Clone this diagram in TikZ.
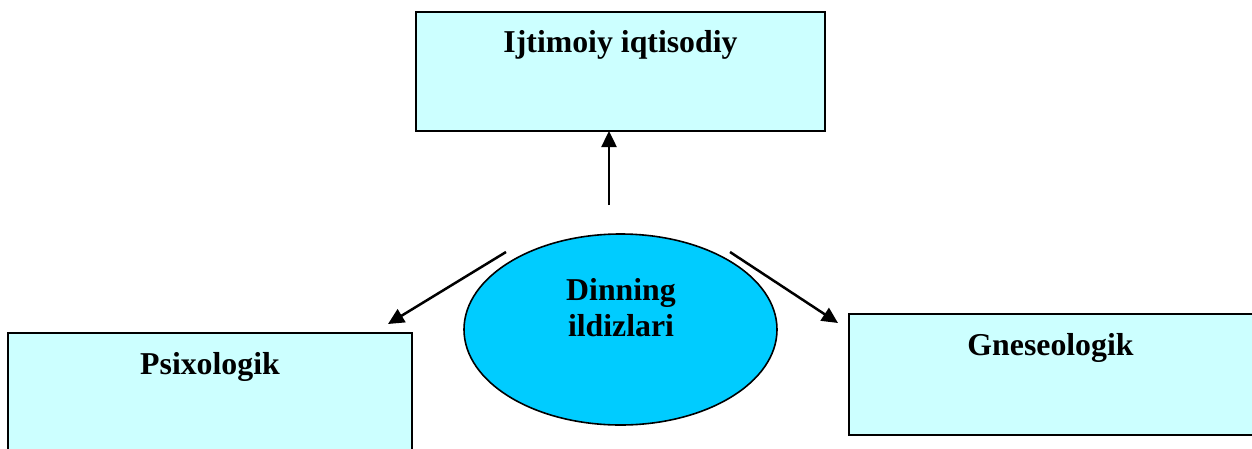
\documentclass[tikz,border=0pt]{standalone}
\usepackage{fontspec}
\setmainfont{Liberation Serif}
\usetikzlibrary{shapes.geometric,arrows.meta}
\definecolor{boxfill}{HTML}{CCFFFF}
\definecolor{ellfill}{HTML}{00CCFF}
\tikzset{
  boxnode/.style={draw=black, line width=2.2pt, fill=boxfill, rectangle, inner sep=0pt, outer sep=0pt, anchor=north west},
  ellnode/.style={draw=black, line width=1.6pt, fill=ellfill, ellipse, inner sep=0pt, outer sep=0pt},
  lbl/.style={font=\bfseries\fontsize{31.8}{36}\selectfont, inner sep=0pt, outer sep=0pt, align=center},
  arr/.style={line width=2.5pt, -{Triangle[length=16pt,width=15pt]}}
}
\begin{document}
\begin{tikzpicture}[x=1pt,y=-1pt]
\useasboundingbox (0,0) rectangle (1252,448);
\clip (0,0) rectangle (1252,448);
\fill[white] (0,0) rectangle (1252,448);
% boxes
\node[boxnode, minimum width=409, minimum height=119] (top) at (416,12) {};
\node[boxnode, minimum width=404, minimum height=150] (left) at (8,333) {};
\node[boxnode, minimum width=440, minimum height=121] (right) at (849,314) {};
% ellipse
\node[ellnode, minimum width=313, minimum height=191] (ell) at (620.5,329.5) {};
% texts
\node[lbl, anchor=base] (toptext) at (620.5,52) {Ijtimoiy iqtisodiy};
\node[lbl, anchor=base] (lefttext) at (210,374) {Psixologik};
\node[lbl, anchor=base] (righttext) at (1050.5,355) {Gneseologik};
\node[lbl] (elltext) at (621,308) {Dinning\\ildizlari};
% connectors
\coordinate (s1) at (609,205);
\coordinate (s2) at (506,252);
\coordinate (e2) at (388,324);
\coordinate (s3) at (730,252);
\coordinate (e3) at (838,323);
\draw[arr] (s1) -- (s1 |- top.south);
\draw[arr] (s2) -- (e2);
\draw[arr] (s3) -- (e3);
\end{tikzpicture}
\end{document}
